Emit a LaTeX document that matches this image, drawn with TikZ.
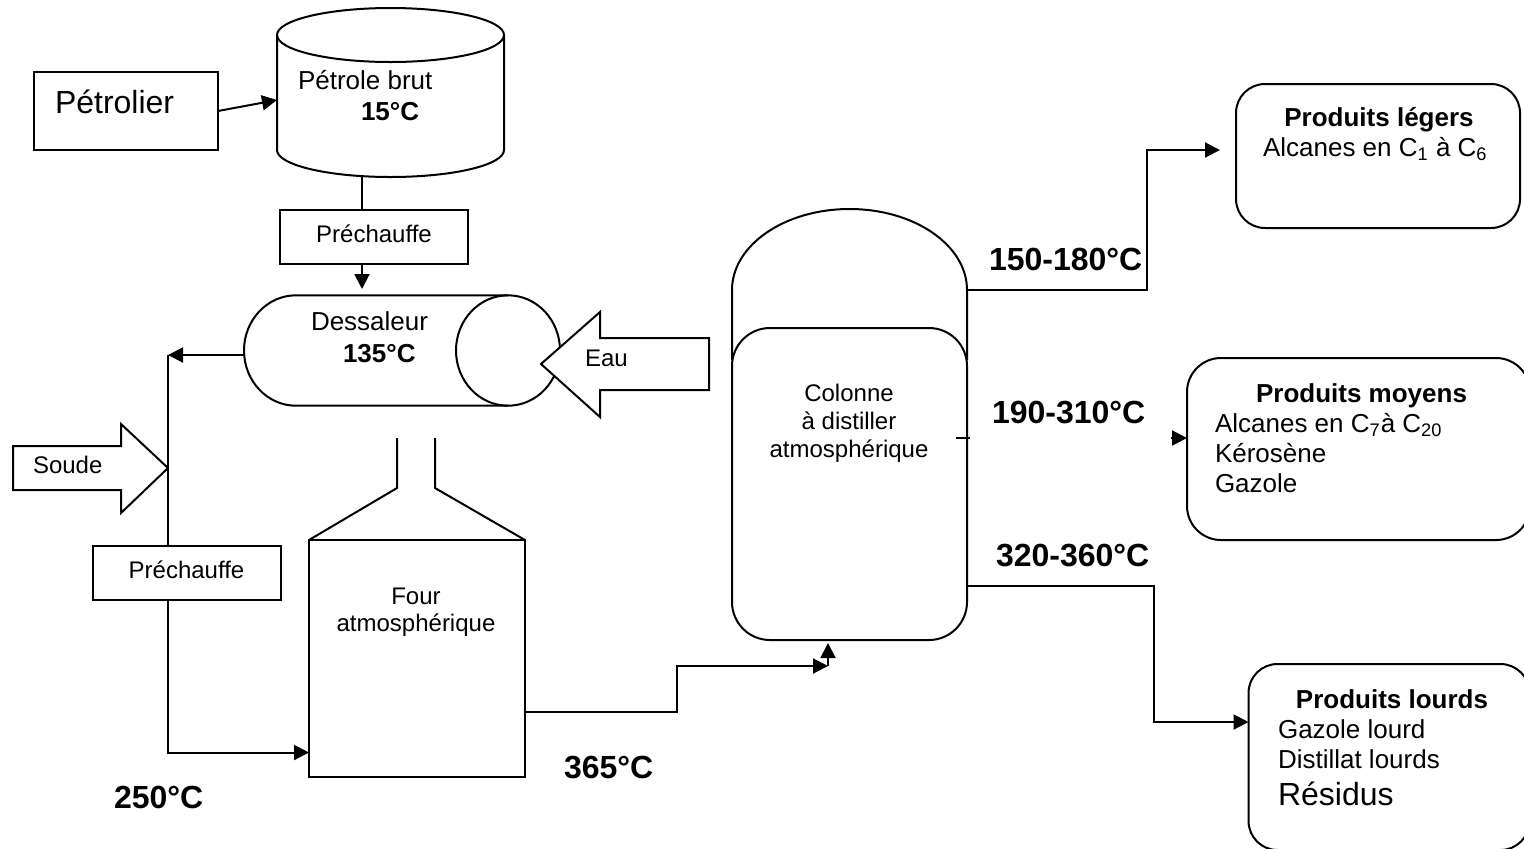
\documentclass[tikz,border=0pt]{standalone}
\usepackage{fontspec}
\setmainfont{Liberation Sans}
\usetikzlibrary{calc,arrows.meta}
\tikzset{
  box/.style={draw,line width=1pt,rectangle,inner sep=0pt,outer sep=0pt},
  chauffe/.style={box,minimum width=94pt,minimum height=27pt,text depth=3pt,
                  font=\fontsize{12}{14}\selectfont},
  vessel/.style={rectangle,inner sep=0pt,outer sep=0pt},
  produit/.style={box,rounded corners=14.5pt},
  fleche/.style={draw,line width=1pt,fill=white,line join=miter},
  flow/.style={-{Triangle[length=7.5pt,width=7.5pt]},line width=1pt},
  tube/.style={line width=1pt},
  lbl/.style={inner sep=0pt,outer sep=0pt,anchor=base west,
              font=\fontsize{13}{15}\selectfont},
  petit/.style={lbl,font=\fontsize{12}{14}\selectfont},
  titre/.style={inner sep=0pt,outer sep=0pt,anchor=base,
                font=\fontsize{13}{15}\selectfont\bfseries},
  temp/.style={inner sep=0pt,outer sep=0pt,anchor=base west,
               font=\fontsize{16}{18}\selectfont\bfseries}
}
\begin{document}
\begin{tikzpicture}[x=0.5pt,y=-0.5pt]
  \useasboundingbox (0,0) rectangle (1524,848);

  \node[box,minimum width=92pt,minimum height=39pt] (petrolier) at (126,111) {};
  \node[lbl,font=\fontsize{16}{18}\selectfont] (petrolierLbl) at (55,113) {Pétrolier};
  \node[vessel,minimum width=113.5pt,minimum height=84.5pt] (brut) at (390.5,92.5) {};
  \draw[tube] (390.5,35) ellipse [x radius=56.75pt,y radius=13.5pt];
  \draw[tube] (277,35) -- (277,150) arc[start angle=180,end angle=360,x radius=56.75pt,y radius=13.5pt] -- (504,35);
  \node[lbl] (brutLbl) at (298,89) {Pétrole brut};
  \node[lbl,font=\fontsize{13}{15}\selectfont\bfseries] (brutTemp) at (361,120) {15°C};
  \node[chauffe] (prechauffeA) at (374,237) {Préchauffe};

  \node[vessel,minimum width=158pt,minimum height=55pt] (dessaleur) at (402,350.5) {};
  \draw[tube] (508,350.5) ellipse [x radius=26pt,y radius=27.6pt];
  \draw[tube] (508,295.3) -- (296,295.3) arc[start angle=90,end angle=270,x radius=26pt,y radius=27.6pt] -- (508,405.7);
  \node[lbl] (dessaleurLbl) at (311,330) {Dessaleur};
  \node[lbl,font=\fontsize{13}{15}\selectfont\bfseries] (dessaleurTemp) at (343,362) {135°C};

  \draw[fleche] (541,364) -- (600,312) -- (600,338) -- (709,338)
     -- (709,390) -- (600,390) -- (600,417) -- cycle;
  \node[petit] (eauLbl) at (585,366) {Eau};

  \coordinate (jonction) at (168,355);
  \node[chauffe] (prechauffeB) at (186.5,573) {Préchauffe};
  \draw[fleche] (13,446) -- (121,446) -- (121,424) -- (168,468)
     -- (121,513) -- (121,490) -- (13,490) -- cycle;
  \node[petit] (soudeLbl) at (33,473) {Soude};

  \node[box,minimum width=108pt,minimum height=118.5pt] (four) at (417,658.5) {};
  \draw[tube] (four.north west) -- (397,488) -- (397,438);
  \draw[tube] (four.north east) -- (435,488) -- (435,438);
  \node[petit,anchor=north,align=center,font=\fontsize{12}{13.5}\selectfont] (fourLbl)
     at (416,587.5) {Four\\atmosphérique};

  \draw[tube] (732,360) -- (732,290) arc[start angle=180,end angle=0,x radius=58.75pt,y radius=40.5pt]
     coordinate (domeE) -- (967,360);
  \node[box,rounded corners=19pt,minimum width=117.5pt,minimum height=156pt] (colonne) at (849.5,484) {};
  \node[petit,anchor=north,align=center] (colonneLbl)
     at (849,384.5) {Colonne\\à distiller\\atmosphérique};

  \node[produit,minimum width=142pt,minimum height=72pt] (legers) at (1378,156) {};
  \node[titre] (legersTitre) at (1379,126) {Produits légers};
  \node[lbl] (legersLbl) at (1263,156) {Alcanes en C\textsubscript{1} à C\textsubscript{6}};

  \node[produit,rounded corners=17pt,minimum width=171.5pt,minimum height=91pt] (moyens) at (1358.5,449) {};
  \node[titre] (moyensTitre) at (1361.5,402) {Produits moyens};
  \node[lbl,anchor=north west,align=left] (moyensLbl)
     at (1215,413) {Alcanes en C\textsubscript{7}à C\textsubscript{20}\\Kérosène\\Gazole};

  \node[produit,minimum width=140.5pt,minimum height=93pt] (lourds) at (1389,757) {};
  \node[titre] (lourdsTitre) at (1392,708) {Produits lourds};
  \node[lbl,anchor=north west,align=left] (lourdsLbl)
     at (1278,720) {Gazole lourd\\Distillat lourds\\[3.5pt]{\fontsize{16}{16}\selectfont Résidus}};

  \node[temp] (tempA) at (989,270) {150-180°C};
  \node[temp] (tempB) at (992,423) {190-310°C};
  \node[temp] (tempC) at (996,566) {320-360°C};
  \node[temp] (tempFour) at (564,778) {365°C};
  \node[temp] (tempPrechauffe) at (114,808) {250°C};

  \draw[flow] (petrolier.east) -- ([yshift=-3.75pt]brut.west);
  \draw[tube] ([xshift=-14.25pt]brut.south) -- ([xshift=-6pt]prechauffeA.north);
  \draw[flow] ([xshift=-6pt]prechauffeA.south) -- ++(0,25);
  \draw[flow] ([yshift=-2.25pt]dessaleur.west) -- (jonction);
  \draw[tube] (jonction) -- (jonction |- prechauffeB.north);
  \draw[flow] (jonction |- prechauffeB.south) |- ([yshift=-47pt]four.west);
  \coordinate (entree) at (828,666);
  \draw[flow] ([yshift=-26.75pt]four.east) -- ++(152,0) |- (entree);
  \draw[flow,shorten >=1.5pt] (entree) -- (entree |- colonne.south);
  \draw[flow] (domeE) -- ++(180,0) |- ([shift={(-8pt,3pt)}]legers.west);
  \draw[tube] ([shift={(-5.5pt,23pt)}]colonne.east) -- ++(14,0);
  \draw[flow] ([shift={(-8pt,5.5pt)}]moyens.west) -- ([yshift=5.5pt]moyens.west);
  \draw[flow] ([yshift=-51pt]colonne.east) -- ++(187,0) |- ([yshift=17.5pt]lourds.west);
\end{tikzpicture}
\end{document}
